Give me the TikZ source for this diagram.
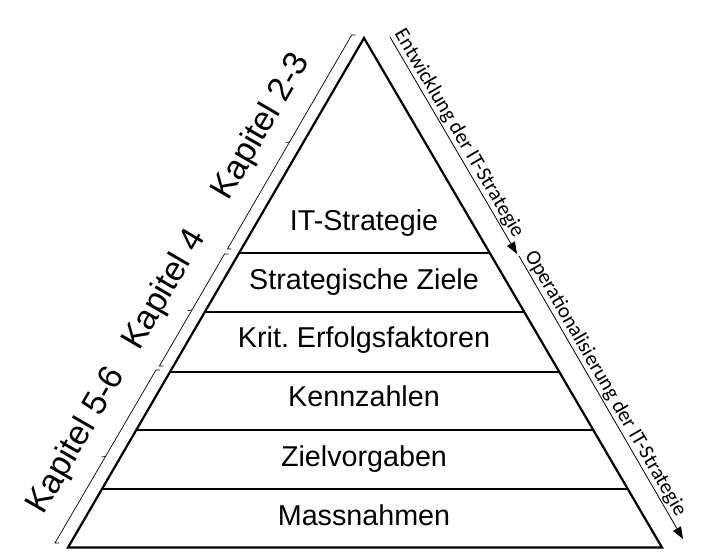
\documentclass[tikz,border=0pt]{standalone}
\usepackage{fontspec}
\setmainfont{Liberation Sans}
\newfontfamily\calfont{Carlito}
\usetikzlibrary{arrows.meta,calc}
\newcommand\kbrack[2]{%
  \draw[brk] ($(#1)+(4,0)$) -- (#1) -- (#2) -- ($(#2)+(4,0)$);
  \draw[brk] ($(#1)!0.5!(#2)$) -- ++(-4,0.5);}
\begin{document}
\frenchspacing
\begin{tikzpicture}[x=1pt,y=-1pt,
  tri/.style={line width=2.2pt, line join=miter},
  layer/.style={line width=2.2pt},
  lbl/.style={font=\fontsize{28.7}{34}\selectfont, anchor=base, inner sep=0pt},
  kap/.style={font=\fontsize{34}{40}\selectfont, rotate=59.8, inner sep=0pt},
  brk/.style={line width=0.7pt},
  flow/.style={line width=0.8pt, -{Triangle[length=12pt,width=9pt]}},
  flowlbl/.style={font=\calfont\fontsize{21}{25}\selectfont, sloped, above, inner sep=1.2pt}]
\useasboundingbox (0,0) rectangle (717,554);
% triangle
\coordinate (A) at (364,38);
\coordinate (BL) at (68,547.5);
\coordinate (BR) at (662,547.5);
\draw[tri] (A) -- (BL) -- (BR) -- cycle;
% layer separators
\foreach \t in {0.42198,0.53778,0.65555,0.76938,0.88518}
  \draw[layer] ($(A)!\t!(BL)$) -- ($(A)!\t!(BR)$);
% layer labels
\node[lbl] (l1) at (364,230) {IT-Strategie};
\node[lbl] (l2) at (364,289) {Strategische Ziele};
\node[lbl] (l3) at (364,347.5) {Krit. Erfolgsfaktoren};
\node[lbl] (l4) at (364,406.7) {Kennzahlen};
\node[lbl] (l5) at (364,466) {Zielvorgaben};
\node[lbl] (l6) at (364,525) {Massnahmen};
% brackets
\coordinate (b1a) at (351.7,35);  \coordinate (b1b) at (227.4,249);
\coordinate (b2a) at (224.5,254); \coordinate (b2b) at (159.4,366);
\coordinate (b3a) at (156,370);   \coordinate (b3b) at (55,543);
\kbrack{b1a}{b1b}
\kbrack{b2a}{b2b}
\kbrack{b3a}{b3b}
\node[kap] (k1) at (262,127) {Kapitel 2-3};
\node[kap] (k2) at (165,290) {Kapitel 4};
\node[kap] (k3) at (77,441) {Kapitel 5-6};
% arrows
\coordinate (e1s) at (390,37);
\coordinate (e1e) at (517,254);
\coordinate (e2s) at (519,256);
\coordinate (e2e) at (683,539);
\draw[flow] (e1s) -- node[flowlbl, pos=0.47] (t1) {Entwicklung der IT-Strategie} (e1e);
\draw[flow] (e2s) -- node[flowlbl, pos=0.47] (t2) {Operationalisierung der IT-Strategie} (e2e);
\end{tikzpicture}
\end{document}
